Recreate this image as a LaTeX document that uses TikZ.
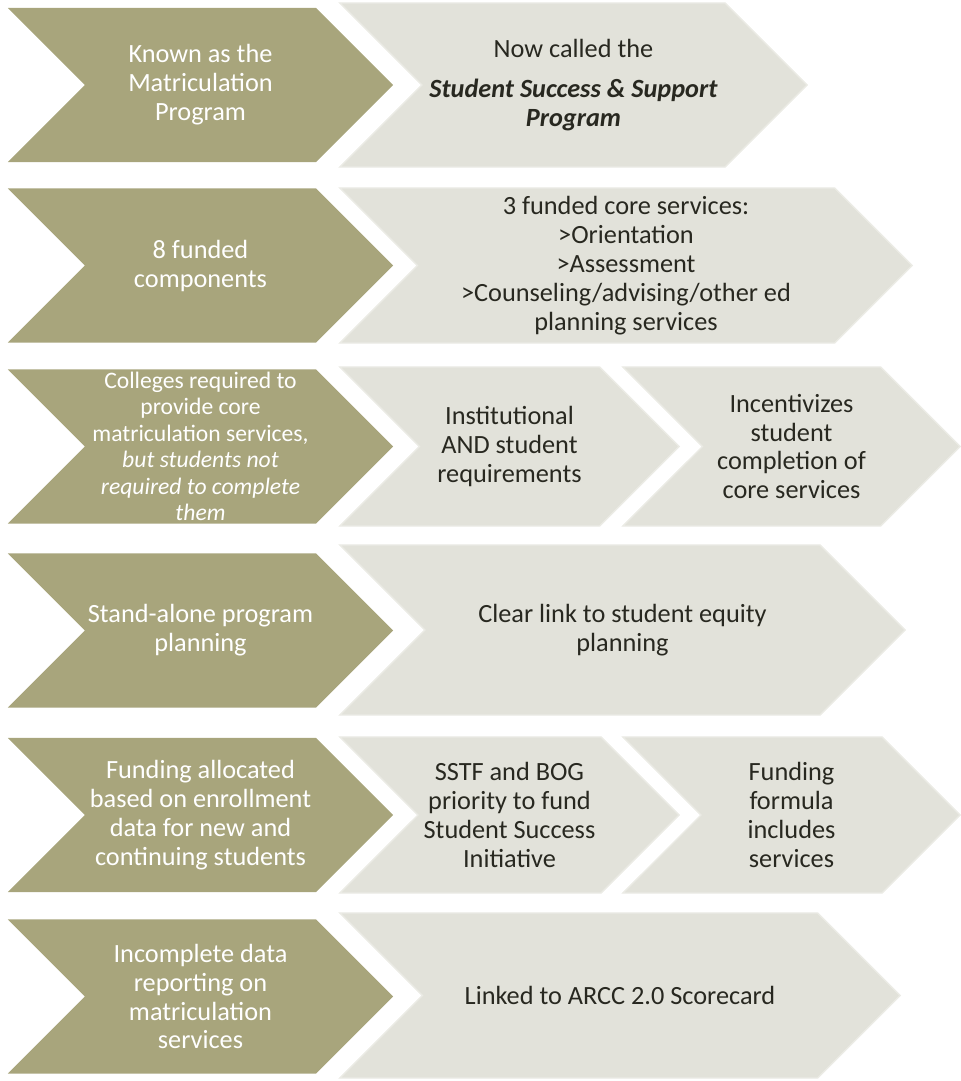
\documentclass[tikz,border=0pt]{standalone}
\usepackage{fontspec}
\setmainfont{Carlito}
\usetikzlibrary{shapes.symbols}
\definecolor{olivefill}{RGB}{168,165,124}
\definecolor{stonefill}{RGB}{226,226,218}
\definecolor{stoneedge}{RGB}{235,235,229}
\definecolor{inktext}{RGB}{40,40,32}

\begin{document}
\begin{tikzpicture}[x=0.025cm,y=-0.025cm]
        \tikzset{
            chev/.style={signal, signal from=west, signal to=east,
            signal pointer angle=90, inner sep=0pt, align=center,
            font=\fontsize{18.7}{20.6}\selectfont},
            was/.style={chev, fill=olivefill, text=white,
            minimum width=9.625cm, minimum height=3.85cm},
            now/.style={chev, fill=stonefill, draw=stoneedge,
            line width=1pt, text=inktext}
            }
            \useasboundingbox (0,0) rectangle (961,1081);

            % old program, left column
            \node[was] (l1) at (200.5,85) {Known as the\\Matriculation\\Program};
            \node[was] (l2) at (200.5,265.5) {8 funded\\components};
            \node[was, font=\fontsize{16.8}{18.8}\selectfont] (l3) at (200.5,446.5)
              {Colleges required to\\provide core\\matriculation services,\\
               \textit{but students not}\\\textit{required to complete}\\\textit{them}};
            \node[was] (l4) at (200.5,630.5) {Stand-alone program\\planning};
            \node[was] (l5) at (200.5,815) {Funding allocated\\based on enrollment\\data for new and\\continuing students};
            \node[was] (l6) at (200.5,996.5) {Incomplete data\\reporting on\\matriculation\\services};

            % new program, right column
            \node[now, minimum width=11.675cm, minimum height=4.1cm] (r1) at (573.5,85)
              {Now called the\\[8pt]\textbf{\textit{Student Success \& Support}}\\\textbf{\textit{Program}}};
            \node[now, minimum width=14.3cm, minimum height=3.875cm] (r2) at (626,265.5)
              {3 funded core services:\\>Orientation\\>Assessment\\>Counseling/advising/other ed\\planning services};
            \node[now, minimum width=8.475cm, minimum height=3.975cm] (r3a) at (509.5,446.5)
              {Institutional\\AND student\\requirements};
            \node[now, minimum width=8.425cm, minimum height=3.975cm] (r3b) at (791.5,446.5)
              {Incentivizes\\student\\completion of\\core services};
            \node[now, minimum width=14.125cm, minimum height=4.25cm] (r4) at (622.5,630)
              {Clear link to student equity\\planning};
            \node[now, minimum width=8.475cm, minimum height=3.9cm] (r5a) at (509.5,815)
              {SSTF and BOG\\priority to fund\\Student Success\\Initiative};
            \node[now, minimum width=8.425cm, minimum height=3.9cm] (r5b) at (791.5,815)
              {Funding\\formula\\includes\\services};
            \node[now, minimum width=14cm, minimum height=4.125cm] (r6) at (620,995.5)
              {Linked to ARCC 2.0 Scorecard};
        \end{tikzpicture}
\end{document}
